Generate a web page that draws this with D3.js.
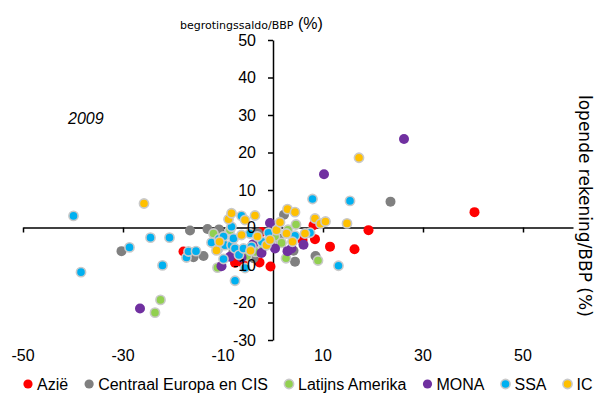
<!DOCTYPE html>
<html><head><meta charset="utf-8">
<script src="https://cdn.jsdelivr.net/npm/d3@7"></script>
<style>body{margin:0;background:#fff}svg{display:block}</style>
</head><body>
<svg id="c" width="595" height="396"></svg>
<script>
// ---- data (x = lopende rekening/BBP %, y = begrotingssaldo/BBP %) ----
const seriesNames = ["Azië", "Centraal Europa en CIS", "Latijns Amerika", "MONA", "SSA", "IC"];
const seriesColors = ["#ff0000", "#808080", "#92d050", "#7030a0", "#00b0f0", "#ffc000"];
const seriesBorder = [false, false, true, false, true, true];

const azie = [[-17.9,-6.4],[-7.6,-9.4],[-6.1,-9.3],[-2.7,-9.3],[-0.5,-10.4],[-2.3,-1.2],[5.9,-3.3],[8.1,0.6],[8.4,-3.1],[11.4,-5.1],[16.3,-5.8],[19.1,-0.7],[40.3,4.1]];
const centraalEuropa = [[-30.3,-6.3],[-16.6,-0.8],[-15.9,-7.9],[-13.9,-7.6],[-13.1,-0.4],[-10.8,-0.5],[-7.9,-6.4],[-5.5,-7.5],[-3.9,-8.2],[-3,-1.5],[1.2,-3.0],[2.2,3.4],[4.1,-6.2],[4.4,-9.1],[8.5,-7.6],[23.5,6.9]];
const latijnsAmerika = [[-23.6,-22.7],[-22.5,-19.3],[-11.9,-1.6],[-11.1,-10.7],[-8.6,-0.7],[-5.2,-7.6],[-3.5,-6.5],[-1.9,-5.1],[0.4,-2.4],[1.7,-4.1],[2.6,-8.2],[3.0,-0.6],[4.6,0.8],[9.0,-8.8]];
const mona = [[-26.6,-21.6],[-10.3,-10.3],[-8.6,-7.8],[-6.3,-8.0],[-4.0,-4.5],[-2.3,-6.8],[-0.6,1.2],[0.4,-5.6],[2.9,-6.3],[3.7,-5.6],[6.1,-4.6],[10.2,14.2],[26.2,23.6]];
const ssa = [[-39.9,3.1],[-38.4,-11.9],[-28.7,-5.3],[-24.5,-2.7],[-22.1,-10.1],[-20.7,-2.7],[-17.3,-8.0],[-16.9,-6.4],[-15.4,-6.3],[-12.3,-4.0],[-11.0,-5.8],[-10.8,-3.0],[-9.9,-2.4],[-9.9,-8.4],[-9.6,-4.7],[-8.3,0.2],[-8.3,-4.7],[-7.9,-2.9],[-7.6,-5.6],[-7.6,-14.2],[-6.8,-7.3],[-6.3,3.1],[-5.9,-5.6],[-5.6,-10.8],[-4.6,-1.6],[-4.3,-5.1],[-2.2,-3.8],[-0.9,-1.4],[4.4,-2.2],[7.4,-1.4],[7.9,7.6],[13.1,-10.2],[15.4,7.1]];
const ic = [[-25.8,6.4],[-11.3,-6.1],[-10.7,-3.8],[-8.9,2.2],[-8.3,3.8],[-6.3,-2.0],[-5.6,2.0],[-4.5,-6.2],[-3.6,3.2],[-3.1,-2.4],[-1.3,-4.7],[-0.6,-3.3],[0.7,-0.7],[1.4,1.4],[2.7,-1.6],[2.9,4.9],[3.9,-3.8],[4.4,4.1],[6.4,-1.6],[8.4,2.4],[9.5,1.0],[10.5,1.6],[14.8,1.1],[17.2,18.6]];

const xTicks = [-50, -30, -10, 10, 30, 50];
const yTicks = [-30, -20, -10, 0, 10, 20, 30, 40, 50];
const yearLabel = "2009";
const yTitleMain = "begrotingssaldo/BBP";
const yTitleUnit = " (%)";
const xTitle = "lopende rekening/BBP (%)";

const allSeries = [azie, centraalEuropa, latijnsAmerika, mona, ssa, ic];

// ---- layout ----
const svg = d3.select("#c");
const x = d3.scaleLinear().domain([-50, 60]).range([23, 573]);
const y = d3.scaleLinear().domain([-30, 50]).range([340, 40]);
const tickFont = "'Liberation Sans', Arial, sans-serif";

// axis lines (behind markers)
const gx = svg.append("g").attr("transform", `translate(0,${y(0)})`)
  .call(d3.axisBottom(x).tickValues(xTicks).tickSize(5).tickSizeOuter(0).tickFormat(""));
const gy = svg.append("g").attr("transform", `translate(${x(0)},0)`)
  .call(d3.axisLeft(y).tickValues(yTicks).tickSize(5).tickSizeOuter(0).tickFormat(""));
[gx, gy].forEach(g => {
  g.selectAll("path,line").attr("stroke", "#000").attr("stroke-width", 1.5);
});

// markers
allSeries.forEach((data, i) => {
  svg.append("g").selectAll("circle").data(data).join("circle")
    .attr("cx", d => x(d[0])).attr("cy", d => y(d[1]))
    .attr("r", seriesBorder[i] ? 4.6 : 5)
    .attr("fill", seriesColors[i])
    .attr("stroke", seriesBorder[i] ? "#c9c9c9" : "none")
    .attr("stroke-width", 1.6);
});

// tick labels (on top)
svg.append("g").selectAll("text").data(yTicks).join("text")
  .attr("x", 256).attr("y", d => y(d)).attr("dy", "0.36em")
  .attr("text-anchor", "end").attr("font-family", tickFont).attr("font-size", 16)
  .attr("fill", "#000").text(d => d);

svg.append("g").selectAll("text").data(xTicks).join("text")
  .attr("x", d => x(d)).attr("y", 361)
  .attr("text-anchor", "middle").attr("font-family", tickFont).attr("font-size", 16)
  .attr("fill", "#000").text(d => d);

// titles
const t = svg.append("text").attr("x", 180).attr("y", 29).attr("fill", "#000");
t.append("tspan").attr("font-family", "'DejaVu Sans', sans-serif").attr("font-size", 11).text(yTitleMain);
t.append("tspan").attr("font-family", tickFont).attr("font-size", 16).text(yTitleUnit);

svg.append("text").attr("transform", "translate(579,95) rotate(90)")
  .attr("font-family", "'DejaVu Sans', sans-serif").attr("font-size", 17)
  .attr("fill", "#000").text(xTitle);

svg.append("text").attr("x", 68).attr("y", 124)
  .attr("font-family", tickFont).attr("font-size", 16).attr("font-style", "italic")
  .attr("fill", "#000").text(yearLabel);

// legend
let lx = 28;
const ly = 384;
seriesNames.forEach((name, i) => {
  svg.append("circle").attr("cx", lx).attr("cy", ly).attr("r", 4.6)
    .attr("fill", seriesColors[i])
    .attr("stroke", seriesBorder[i] ? "#c9c9c9" : "none").attr("stroke-width", 1.6);
  const tx = svg.append("text").attr("x", lx + 9).attr("y", ly + 6)
    .attr("font-family", tickFont).attr("font-size", 16).attr("fill", "#000").text(name);
  lx += 9 + tx.node().getComputedTextLength() + 21;
});
</script>
</body></html>
